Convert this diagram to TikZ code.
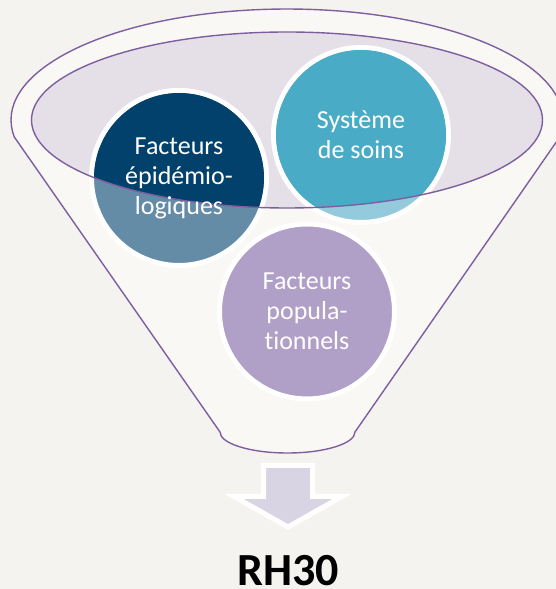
\documentclass[tikz,border=0pt]{standalone}
\usepackage{fontspec}
\setmainfont{Carlito}[Ligatures=NoCommon]
\definecolor{fond}{HTML}{F4F3EF}
\definecolor{entonnoir}{HTML}{F9F8F5}
\definecolor{bord}{HTML}{7D5FA0}
\definecolor{ouverture}{HTML}{E5E0E8}
\definecolor{epifort}{HTML}{02416B}
\definecolor{epipale}{HTML}{658CA7}
\definecolor{soinsfort}{HTML}{4AABC6}
\definecolor{soinspale}{HTML}{93CBDC}
\definecolor{poppale}{HTML}{B09FC6}
\definecolor{fleche}{HTML}{D8D4E4}
\begin{document}
\begin{tikzpicture}[x=1pt, y=1pt,
        cercle/.style={circle, draw=white, line width=5pt, minimum size=175pt, inner sep=0pt},
        texte/.style={text=white, align=center, font=\fontsize{26}{30}\selectfont},
        trait/.style={draw=bord, line width=1.4pt}]
        \fill [ fond ] (0, 0) rectangle (556, 589);
        \useasboundingbox (0, 0) rectangle (556, 589);
        \clip (0, 0) rectangle (556, 589);

        \coordinate (haut) at (287, 469);

        \draw [ trait, fill=entonnoir ] (14.3, 452) arc [ start angle=188.8, end angle=-8.8, x radius=276pt, y radius=111pt ]
            -- (355, 157) arc [ start angle=0, end angle=-180, x radius=67.5pt, y radius=21pt ] -- cycle;
        \fill [ ouverture ] (haut) ellipse [ x radius=255.5pt, y radius=88pt ];

        \node [ cercle, fill=epipale ] (epi) at (179, 411) {};
        \node [ cercle, fill=soinspale ] (soins) at (361, 454) {};
        \node [ cercle, fill=poppale ] (pop) at (307, 277.5) {};

        \begin{scope}
            \clip (haut) ellipse [ x radius=255.5pt, y radius=88pt ];
            \fill [ epifort ] (epi) circle (85pt);
            \fill [ soinsfort ] (soins) circle (85pt);
        \end{scope}
        \draw [ trait ] (haut) ellipse [ x radius=255.5pt, y radius=88pt ];

        \node [ texte ] (epitexte) at (epi) {Facteurs\\épidémio-\\logiques};
        \node [ texte ] (soinstexte) at (soins) {Système\\de soins};
        \node [ texte ] (poptexte) at (pop) {Facteurs\\popula-\\tionnels};

        \draw [ white, line width=5pt, fill=fleche ] (263.5, 123.5) -- (312.5, 123.5) -- (312.5, 92.5) -- (342, 92.5)
            -- (288, 62) -- (234, 92.5) -- (263.5, 92.5) -- cycle;
        \node [ font=\fontsize{46}{50}\selectfont\bfseries, anchor=base, inner sep=0pt ] (rh) at (288, 3) {RH30};
      \end{tikzpicture}
\end{document}
